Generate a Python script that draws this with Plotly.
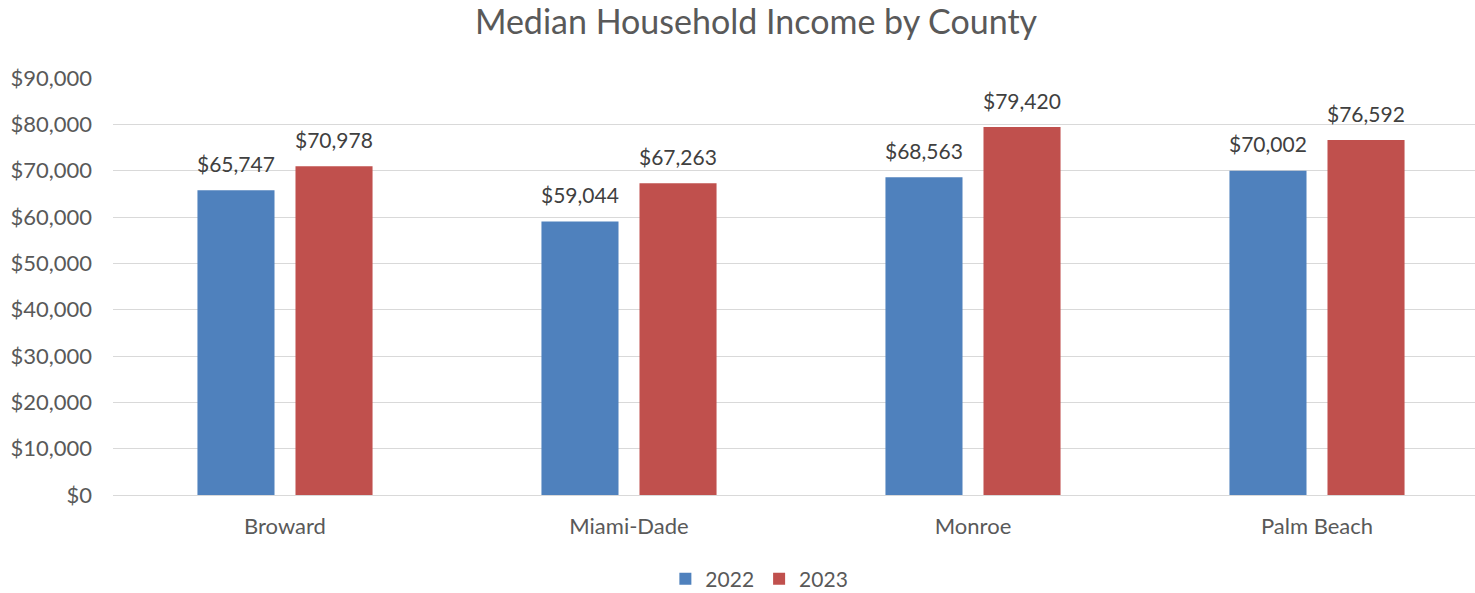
import plotly.graph_objects as go

counties = ["Broward", "Miami-Dade", "Monroe", "Palm Beach"]
income_2022 = [65747, 59044, 68563, 70002]
income_2023 = [70978, 67263, 79420, 76592]
series_names = ["2022", "2023"]
y_ticks = [0, 10000, 20000, 30000, 40000, 50000, 60000, 70000, 80000, 90000]

FONT = "Lato"
W, H = 1475, 593
ML, MR, MT, MB = 113, 0, 78, 98
cat_px = 344
plot_w = W - ML - MR
plot_h = H - MT - MB
BAR_OFFSET_PX = 49  # half of bar slot within group

fig = go.Figure()
series = [(series_names[0], income_2022, "#4F81BD", -BAR_OFFSET_PX),
          (series_names[1], income_2023, "#C0504D", BAR_OFFSET_PX)]
for name, vals, color, _ in series:
    fig.add_trace(go.Bar(
        x=counties, y=vals, name=name, marker_color=color,
        marker_line_width=0, hoverinfo="x+y",
    ))

annotations = []
for name, vals, color, dx in series:
    for c, v in zip(counties, vals):
        annotations.append(dict(
            x=c, y=v, xref="x", yref="y", text=f"${v:,}", showarrow=False,
            xshift=dx, yshift=27, yanchor="middle",
            font=dict(family=FONT, size=21, color="#404040"),
        ))

fig.update_layout(
    width=W, height=H,
    margin=dict(l=ML, r=MR, t=MT, b=MB, autoexpand=False),
    paper_bgcolor="white", plot_bgcolor="white",
    barmode="group", bargap=0.43, bargroupgap=0.214,
    annotations=annotations,
    title=dict(text="Median Household Income by County", x=756 / W, xanchor="center",
               y=1 - 22 / H, yanchor="middle", automargin=False,
               font=dict(family=FONT, size=34, color="#595959")),
    xaxis=dict(range=[-0.5, -0.5 + plot_w / cat_px], showgrid=False, ticks="",
               automargin=False, ticklabelstandoff=16,
               tickfont=dict(family=FONT, size=22, color="#595959"), showline=False),
    yaxis=dict(range=[0, 90000], tickvals=y_ticks, automargin=False,
               ticktext=[f"${v:,}" for v in y_ticks],
               tickfont=dict(family=FONT, size=22, color="#595959"),
               gridcolor="#D9D9D9", gridwidth=1, zeroline=True, zerolinecolor="#D9D9D9",
               zerolinewidth=1, ticks="", ticklabelstandoff=20),
    legend=dict(orientation="h", x=700 / W, xanchor="center", y=-(579 - 495) / plot_h,
                yanchor="middle", font=dict(family=FONT, size=21, color="#595959"),
                itemwidth=30, traceorder="normal"),
)
fig.write_html("out.html", config={"displayModeBar": False},
               post_script="document.body.style.margin='0';")
